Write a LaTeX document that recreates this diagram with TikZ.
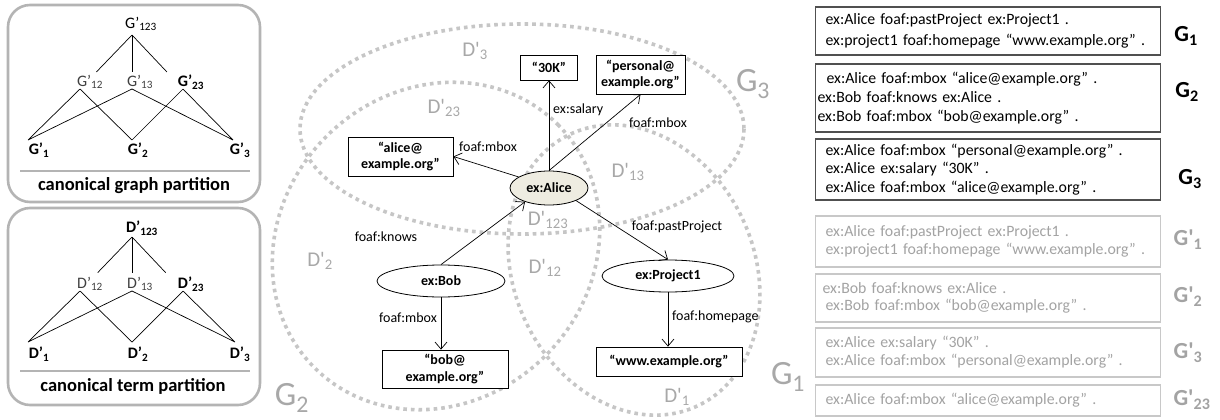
\documentclass[tikz,border=0pt]{standalone}
\usepackage{fontspec}
\setmainfont{Carlito}[Ligatures=TeXOff]
\usetikzlibrary{shapes.geometric,arrows.meta,calc}
\definecolor{setgray}{HTML}{C6C6C6}
\definecolor{labgray}{HTML}{A8A8A8}
\definecolor{panelgray}{HTML}{B4B4B4}
\definecolor{boxedge}{HTML}{505050}
\definecolor{litebox}{HTML}{C8C8C8}
\definecolor{litetext}{HTML}{A3A3A3}
\definecolor{alicefill}{HTML}{EEECE1}
\definecolor{softblack}{HTML}{404040}
\newcommand\fs[1]{\fontsize{#1}{#1}\selectfont}

\begin{document}
\begin{tikzpicture}[x=1pt,y=-1pt,
  setline/.style={draw=setgray, line width=3.6pt, dash pattern=on 3.6pt off 4pt},
  setname/.style={text=labgray, font=\fs{34}, inner sep=0pt},
  regname/.style={text=labgray, font=\fs{21}, inner sep=0pt},
  lit/.style={rectangle, draw, line width=0.8pt, fill=white, align=center, inner sep=0pt,
    font=\bfseries\fontsize{14}{16.5}\selectfont},
  res/.style={ellipse, draw, line width=0.8pt, fill=white, inner sep=0pt, font=\bfseries\fs{14}},
  rel/.style={font=\fs{14}, inner sep=0pt},
  arc/.style={line width=0.7pt, -{Straight Barb[length=7pt,width=12pt]}},
  panel/.style={draw=panelgray, line width=2.6pt, rounded corners=22pt},
  panelsep/.style={draw=panelgray, line width=2.6pt},
  caption/.style={font=\bfseries\fs{18.5}, inner sep=0pt},
  vlab/.style={font=\fs{16}, inner sep=0pt},
  vlabb/.style={font=\bfseries\fs{16}, inner sep=0pt},
  tree/.style={line width=0.7pt},
  gbox/.style={draw=boxedge, line width=1.1pt, inner xsep=10, inner ysep=0,
    text width=325, anchor=west, align=left},
  gpbox/.style={gbox, draw=litebox, text=litetext},
  glab/.style={font=\bfseries\fs{23}, inner sep=0pt},
  gplab/.style={glab, text=litetext}
]
\fill[white] (0,0) rectangle (1220,420);
\useasboundingbox (0,0) rectangle (1220,420);

% ---------- canonical graph partition ----------
\draw[panel] (8,5) rectangle (260,202);
\draw[panelsep] (20,171) -- (250,171);
\node[caption] (capg) at (134,186) {canonical graph partition};
\coordinate (gt) at (132,35);
\coordinate (gm1) at (80,89);
\coordinate (gm2) at (132,89);
\coordinate (gm3) at (183,89);
\coordinate (gb1) at (28,140);
\coordinate (gb2) at (132,140);
\coordinate (gb3) at (233,140);
\node[vlab] (lg123) at (141,24) {G’\textsubscript{123}};
\node[vlab, text=softblack] (lg12) at (90,82) {G’\textsubscript{12}};
\node[vlab, text=softblack] (lg13) at (140,82) {G’\textsubscript{13}};
\node[vlabb] (lg23) at (191,82) {G’\textsubscript{23}};
\node[vlabb] (lg1) at (39,150) {G’\textsubscript{1}};
\node[vlabb] (lg2) at (138,150) {G’\textsubscript{2}};
\node[vlabb] (lg3) at (240,150) {G’\textsubscript{3}};
\foreach \m in {gm1,gm2,gm3} \draw[tree] (gt) -- ($(gt)!0.685!(\m)$);
\draw[tree] (gm1) -- (gb1) (gm1) -- (gb2)
            (gm2) -- (gb1) (gm2) -- (gb3)
            (gm3) -- (gb2) (gm3) -- (gb3);

% ---------- canonical term partition ----------
\draw[panel] (8,208) rectangle (260,405);
\draw[panelsep] (20,371) -- (250,371);
\node[caption] (capt) at (133,386) {canonical term partition};
\coordinate (dt) at (132,237);
\coordinate (dm1) at (80,291);
\coordinate (dm2) at (132,291);
\coordinate (dm3) at (183,291);
\coordinate (db1) at (28,342);
\coordinate (db2) at (132,342);
\coordinate (db3) at (235,342);
\node[vlabb] (ld123) at (142,228) {D’\textsubscript{123}};
\node[vlab, text=softblack] (ld12) at (90,284) {D’\textsubscript{12}};
\node[vlab, text=softblack] (ld13) at (140,284) {D’\textsubscript{13}};
\node[vlabb] (ld23) at (191,284) {D’\textsubscript{23}};
\node[vlabb] (ld1) at (39,354) {D’\textsubscript{1}};
\node[vlabb] (ld2) at (138,354) {D’\textsubscript{2}};
\node[vlabb] (ld3) at (240,354) {D’\textsubscript{3}};
\foreach \m in {dm1,dm2,dm3} \draw[tree] (dt) -- ($(dt)!0.66!(\m)$);
\draw[tree] (dm1) -- (db1) (dm1) -- (db2)
            (dm2) -- (db1) (dm2) -- (db3)
            (dm3) -- (db2) (dm3) -- (db3);

% ---------- the three graphs as overlapping sets ----------
\draw[setline] (522,129) ellipse [x radius=222, y radius=105];
\draw[setline, rotate around={45:(436,246)}] (436,246) ellipse [x radius=172, y radius=155];
\draw[setline, rotate around={25:(634,270)}] (634,270) ellipse [x radius=120, y radius=150];

\node[setname] (sg3) at (753,84) {G\textsubscript{3}};
\node[setname] (sg2) at (292,398) {G\textsubscript{2}};
\node[setname] (sg1) at (788,377) {G\textsubscript{1}};

\node[regname] (r3) at (475,51) {D'\textsubscript{3}};
\node[regname] (r23) at (444,108) {D'\textsubscript{23}};
\node[regname] (r13) at (628,172) {D'\textsubscript{13}};
\node[regname] (r123) at (548,220) {D'\textsubscript{123}};
\node[regname] (r2) at (320,261) {D'\textsubscript{2}};
\node[regname] (r12) at (545,268) {D'\textsubscript{12}};
\node[regname] (r1) at (677,397) {D'\textsubscript{1}};

% ---------- RDF graph ----------
\node[res, fill=alicefill, minimum width=78, minimum height=34] (alice) at (549,188) {ex:Alice};
\node[res, minimum width=128, minimum height=32] (bob) at (441,281) {ex:Bob};
\node[res, minimum width=132, minimum height=32] (proj) at (668,276) {ex:Project1};
\node[lit, minimum width=57, minimum height=25] (k30) at (549,67.5) {“30K”};
\node[lit, minimum width=89, minimum height=39] (pers) at (640.5,74.5) {“personal@\\example.org”};
\node[lit, minimum width=105, minimum height=39] (amail) at (400.5,156.5) {“alice@\\example.org”};
\node[lit, minimum width=126, minimum height=38] (bmail) at (445,369) {“bob@\\example.org”};
\node[lit, minimum width=146, minimum height=29] (www) at (669,361.5) {“www.example.org”};

\draw[arc] (alice.north) -- (k30.south);
\draw[arc] (alice.north) -- (pers.south);
\draw[arc] (alice.160) -- (amail.east);
\draw[arc] (bob.north) -- (alice.210);
\draw[arc] (alice.-25) -- (proj.north);
\draw[arc] (bob.south) -- (bob.south |- bmail.north);
\draw[arc] (proj.south) -- (proj.south |- www.north);

\node[rel, anchor=west] (lsal) at (553,110) {ex:salary};
\node[rel] (lmb1) at (658,123) {foaf:mbox};
\node[rel] (lmb2) at (488,147) {foaf:mbox};
\node[rel] (lkn) at (386,237) {foaf:knows};
\node[rel] (lmb3) at (408,318) {foaf:mbox};
\node[rel] (lpp) at (677,227) {foaf:pastProject};
\node[rel, anchor=west] (lhp) at (672,317) {foaf:homepage};

% ---------- named graphs and their partition ----------
\node[gbox, minimum height=48, font=\fontsize{15.8}{21}\selectfont] (bg1) at (815,31)
  {ex:Alice foaf:pastProject ex:Project1 .\\ex:project1 foaf:homepage “www.example.org” .};
\node[gbox, minimum height=68, font=\fontsize{15.8}{19}\selectfont] (bg2) at (815,98)
  {\hspace*{1pt}ex:Alice foaf:mbox “alice@example.org” .\\\hspace*{-8pt}ex:Bob foaf:knows ex:Alice .\\\hspace*{-8pt}ex:Bob foaf:mbox “bob@example.org” .};
\node[gbox, minimum height=61, font=\fontsize{15.8}{18.5}\selectfont] (bg3) at (815,169.5)
  {ex:Alice foaf:mbox “personal@example.org” .\\ex:Alice ex:salary “30K” .\\ex:Alice foaf:mbox “alice@example.org” .};
\node[gpbox, minimum height=51, font=\fontsize{15.8}{18}\selectfont] (bp1) at (815,241.5)
  {ex:Alice foaf:pastProject ex:Project1 .\\ex:project1 foaf:homepage “www.example.org” .};
\node[gpbox, minimum height=48, font=\fontsize{15.8}{17.5}\selectfont] (bp2) at (815,298)
  {\hspace*{-3pt}ex:Bob foaf:knows ex:Alice .\\ex:Bob foaf:mbox “bob@example.org” .};
\node[gpbox, minimum height=49, font=\fontsize{15.8}{18}\selectfont] (bp3) at (815,352.5)
  {ex:Alice ex:salary “30K” .\\ex:Alice foaf:mbox “personal@example.org” .};
\node[gpbox, minimum height=31, font=\fontsize{15.8}{18}\selectfont] (bp23) at (815,400.5)
  {ex:Alice foaf:mbox “alice@example.org” .};

\node[glab] (ng1) at (1186,36) {G\textsubscript{1}};
\node[glab] (ng2) at (1187,92) {G\textsubscript{2}};
\node[glab] (ng3) at (1190,179) {G\textsubscript{3}};
\node[gplab] (np1) at (1188,240) {G'\textsubscript{1}};
\node[gplab] (np2) at (1188,297) {G'\textsubscript{2}};
\node[gplab] (np3) at (1188,353) {G'\textsubscript{3}};
\node[gplab] (np23) at (1192,400) {G'\textsubscript{23}};
\end{tikzpicture}
\end{document}
